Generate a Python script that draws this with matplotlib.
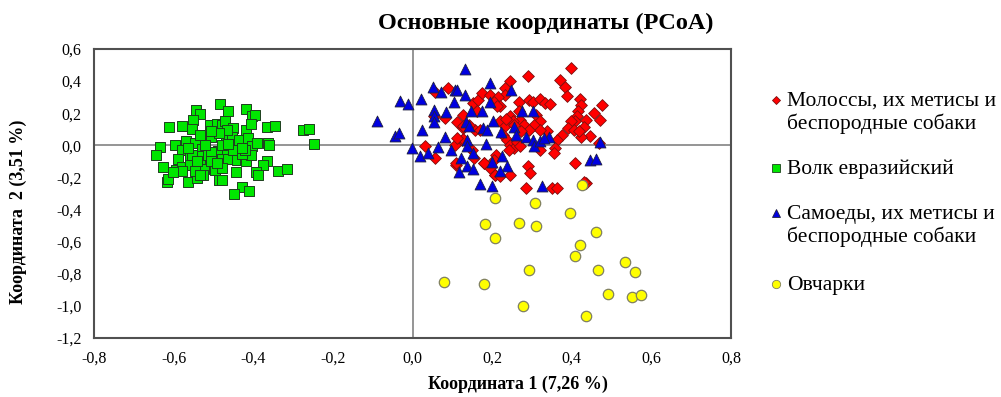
import matplotlib
matplotlib.use('Agg')
import matplotlib.pyplot as plt
from matplotlib.lines import Line2D
from matplotlib.ticker import FuncFormatter

plt.rcParams['font.family'] = ['Liberation Serif', 'DejaVu Serif']

# Molossians, their crosses and mongrels (red diamonds)
molossy_x = [0.057, 0.089, 0.053, 0.082, 0.112, 0.128, 0.128, 0.153, 0.164, 0.175,
             0.194, 0.162, 0.158, 0.170, 0.124, 0.107, 0.032, 0.057, 0.110, 0.149,
             0.180, 0.195, 0.208, 0.210, 0.398, 0.289, 0.244, 0.233, 0.233, 0.370,
             0.382, 0.387, 0.216, 0.204, 0.219, 0.267, 0.292, 0.303, 0.320, 0.332,
             0.345, 0.420, 0.422, 0.416, 0.414, 0.409, 0.476, 0.455, 0.470, 0.437,
             0.430, 0.447, 0.422, 0.398, 0.390, 0.376, 0.363, 0.359, 0.356, 0.405,
             0.418, 0.468, 0.407, 0.437, 0.430, 0.338, 0.309, 0.321, 0.304, 0.320,
             0.271, 0.281, 0.292, 0.273, 0.246, 0.253, 0.267, 0.221, 0.233, 0.227,
             0.237, 0.244, 0.254, 0.242, 0.263, 0.271, 0.321, 0.179, 0.204, 0.206,
             0.221, 0.244, 0.290, 0.294, 0.284, 0.351, 0.363, 0.212, 0.141, 0.126,
             0.155, 0.112, 0.109, 0.235, 0.254, 0.128]
molossy_y = [0.331, 0.356, 0.180, 0.170, 0.143, 0.191, 0.108, 0.263, 0.280, 0.325,
             0.315, 0.211, 0.097, 0.097, 0.035, 0.004, -0.002, -0.078, -0.120, -0.031,
             -0.109, -0.140, -0.182, -0.058, 0.481, 0.429, 0.398, 0.356, 0.315, 0.404,
             0.363, 0.309, 0.304, 0.273, 0.242, 0.273, 0.284, 0.273, 0.288, 0.263,
             0.259, 0.288, 0.253, 0.211, 0.184, 0.149, 0.253, 0.201, 0.155, 0.155,
             0.114, 0.060, 0.052, 0.149, 0.108, 0.066, 0.031, -0.016, -0.047, 0.097,
             0.087, 0.015, -0.109, -0.234, -0.230, 0.087, 0.191, 0.149, 0.129, 0.097,
             0.160, 0.128, 0.097, 0.087, 0.180, 0.149, 0.211, 0.149, 0.118, 0.066,
             0.035, 0.004, -0.016, -0.027, 0.019, -0.002, -0.027, -0.109, -0.089, -0.182,
             -0.193, -0.182, -0.126, -0.171, -0.265, -0.265, -0.265, 0.242, 0.129, 0.040,
             -0.078, 0.046, -0.109, 0.164, 0.129, 0.118]

# Eurasian wolf (green squares)
wolf_x = [-0.484, -0.545, -0.534, -0.464, -0.418, -0.403, -0.396, -0.552, -0.611, -0.578,
          -0.555, -0.509, -0.492, -0.478, -0.471, -0.452, -0.417, -0.406, -0.365, -0.346,
          -0.274, -0.260, -0.247, -0.635, -0.645, -0.597, -0.569, -0.578, -0.547, -0.534,
          -0.505, -0.528, -0.469, -0.454, -0.436, -0.413, -0.404, -0.391, -0.364, -0.360,
          -0.488, -0.467, -0.559, -0.589, -0.534, -0.506, -0.479, -0.463, -0.442, -0.421,
          -0.417, -0.406, -0.365, -0.375, -0.626, -0.593, -0.579, -0.559, -0.534, -0.523,
          -0.496, -0.478, -0.444, -0.393, -0.387, -0.339, -0.316, -0.616, -0.615, -0.563,
          -0.542, -0.526, -0.486, -0.479, -0.429, -0.411, -0.448, -0.555, -0.542, -0.513,
          -0.505, -0.450, -0.429, -0.421, -0.547, -0.534, -0.580, -0.601, -0.479, -0.463,
          -0.429, -0.505, -0.492, -0.522, -0.563, -0.467, -0.486, -0.505]
wolf_y = [0.257, 0.222, 0.195, 0.211, 0.226, 0.180, 0.190, 0.160, 0.114, 0.122,
          0.100, 0.128, 0.133, 0.124, 0.149, 0.108, 0.098, 0.133, 0.114, 0.122,
          0.097, 0.100, 0.009, -0.010, -0.062, 0.004, 0.025, -0.027, 0.015, 0.066,
          0.050, -0.020, 0.035, 0.050, 0.035, 0.046, -0.006, 0.015, 0.015, 0.000,
          -0.037, -0.033, -0.068, -0.083, -0.068, -0.083, -0.083, -0.083, -0.089, -0.083,
          -0.099, -0.058, -0.095, -0.120, -0.137, -0.151, -0.137, -0.120, -0.116, -0.145,
          -0.151, -0.141, -0.165, -0.165, -0.186, -0.161, -0.145, -0.227, -0.207, -0.227,
          -0.203, -0.182, -0.219, -0.219, -0.261, -0.286, -0.306, -0.058, -0.099, -0.058,
          -0.041, -0.027, -0.053, -0.027, -0.161, -0.182, -0.157, -0.165, 0.004, 0.009,
          -0.016, -0.099, -0.109, 0.004, -0.016, 0.097, 0.077, 0.087]

# Samoyeds, their crosses and mongrels (blue triangles)
samoed_x = [0.133, -0.090, -0.031, -0.012, -0.044, -0.035, -0.002, 0.018, 0.038, 0.021,
            0.024, 0.051, 0.072, 0.053, 0.055, 0.053, 0.085, 0.081, 0.063, 0.097,
            0.107, 0.113, 0.133, 0.105, 0.195, 0.135, 0.141, 0.148, 0.175, 0.202,
            0.177, 0.187, 0.137, 0.137, 0.152, 0.123, 0.138, 0.117, 0.153, 0.185,
            0.200, 0.223, 0.225, 0.237, 0.221, 0.170, 0.200, 0.248, 0.256, 0.261,
            0.275, 0.303, 0.285, 0.303, 0.306, 0.321, 0.342, 0.326, 0.445, 0.462,
            0.472, 0.195, 0.331]
samoed_y = [0.475, 0.149, 0.278, 0.257, 0.056, 0.077, -0.016, -0.064, -0.047, 0.288,
            0.097, 0.366, 0.331, 0.222, 0.184, 0.143, 0.205, 0.050, -0.010, -0.031,
            0.342, 0.342, 0.315, 0.270, 0.388, 0.143, 0.122, 0.216, 0.211, 0.149,
            0.108, 0.097, 0.031, -0.006, -0.047, -0.078, -0.130, -0.168, -0.145, 0.009,
            -0.106, 0.081, -0.064, -0.130, -0.161, -0.238, -0.255, 0.342, 0.114, 0.066,
            0.211, 0.211, 0.052, 0.031, -0.006, 0.025, 0.052, -0.255, -0.089, -0.085,
            0.019, 0.267, 0.046]

# Shepherd dogs (yellow circles)
ovcharki_x = [0.426, 0.208, 0.307, 0.395, 0.183, 0.268, 0.311, 0.208, 0.461, 0.420,
              0.407, 0.535, 0.559, 0.292, 0.466, 0.080, 0.179, 0.491, 0.551, 0.575,
              0.278, 0.436]
ovcharki_y = [-0.244, -0.331, -0.358, -0.420, -0.488, -0.482, -0.503, -0.580, -0.540, -0.619,
              -0.689, -0.724, -0.789, -0.778, -0.776, -0.849, -0.865, -0.927, -0.942, -0.934,
              -1.000, -1.064]

labels = ['Молоссы, их метисы и\nбеспородные собаки', 'Волк евразийский',
          'Самоеды, их метисы и\nбеспородные собаки', 'Овчарки']

fig = plt.figure(figsize=(10.01, 3.97), dpi=100)
ax = fig.add_axes([94 / 1001, 1 - 338 / 397, 637 / 1001, 289 / 397])

ax.axhline(0, color='#8c8c8c', lw=1.3, zorder=1)
ax.axvline(0, color='#8c8c8c', lw=1.3, zorder=1)

styles = [
    dict(marker='D', s=36, c='#ff0000', edgecolors='#7a1010', linewidths=0.6),
    dict(marker='s', s=54, c='#00e600', edgecolors='#1f3f1f', linewidths=0.7),
    dict(marker='^', s=62, c='#0000e0', edgecolors='#202040', linewidths=0.6),
    dict(marker='o', s=56, c='#ffff00', edgecolors='#808060', linewidths=0.9),
]
series = [(molossy_x, molossy_y), (wolf_x, wolf_y), (samoed_x, samoed_y),
          (ovcharki_x, ovcharki_y)]
for (xs, ys), st in zip(series, styles):
    ax.scatter(xs, ys, zorder=3, **st)

ax.set_xlim(-0.8, 0.8)
ax.set_ylim(-1.2, 0.6)
ax.set_xticks([i / 10 for i in range(-8, 9, 2)])
ax.set_yticks([i / 10 for i in range(-12, 7, 2)])
fmt = FuncFormatter(lambda v, p: f'{v:.1f}'.replace('.', ','))
ax.xaxis.set_major_formatter(fmt)
ax.yaxis.set_major_formatter(fmt)
ax.tick_params(length=0, labelsize=11.5, pad=9)
for sp in ax.spines.values():
    sp.set_color('#505050')
    sp.set_linewidth(1.5)

fig.text(546 / 1001, 1 - 23 / 397, 'Основные координаты (PCoA)', ha='center', va='center',
         fontsize=17.5, fontweight='bold')
fig.text(518 / 1001, 1 - 384 / 397, 'Координата 1 (7,26 %)', ha='center', va='center',
         fontsize=13, fontweight='bold')
fig.text(18 / 1001, 1 - 212 / 397, 'Координата  2 (3,51 %)', ha='center', va='center',
         rotation=90, fontsize=13, fontweight='bold')

# legend drawn by hand so the marker sits on the first text line
leg_y = [100, 168, 213, 284]
leg_ms = [4.5, 6, 6, 6]
leg_marker = ['D', 's', '^', 'o']
for lab, yy, st, mk, ms in zip(labels, leg_y, styles, leg_marker, leg_ms):
    fig.add_artist(Line2D([776 / 1001], [1 - yy / 397], transform=fig.transFigure,
                          marker=mk, markersize=ms, color=st['c'],
                          markeredgecolor=st['edgecolors'], markeredgewidth=0.6, ls='none'))
    fig.text(787 / 1001, 1 - (yy - 8) / 397, lab, ha='left', va='top', fontsize=15.5,
             linespacing=1.15)

fig.savefig('out.png', dpi=100)
